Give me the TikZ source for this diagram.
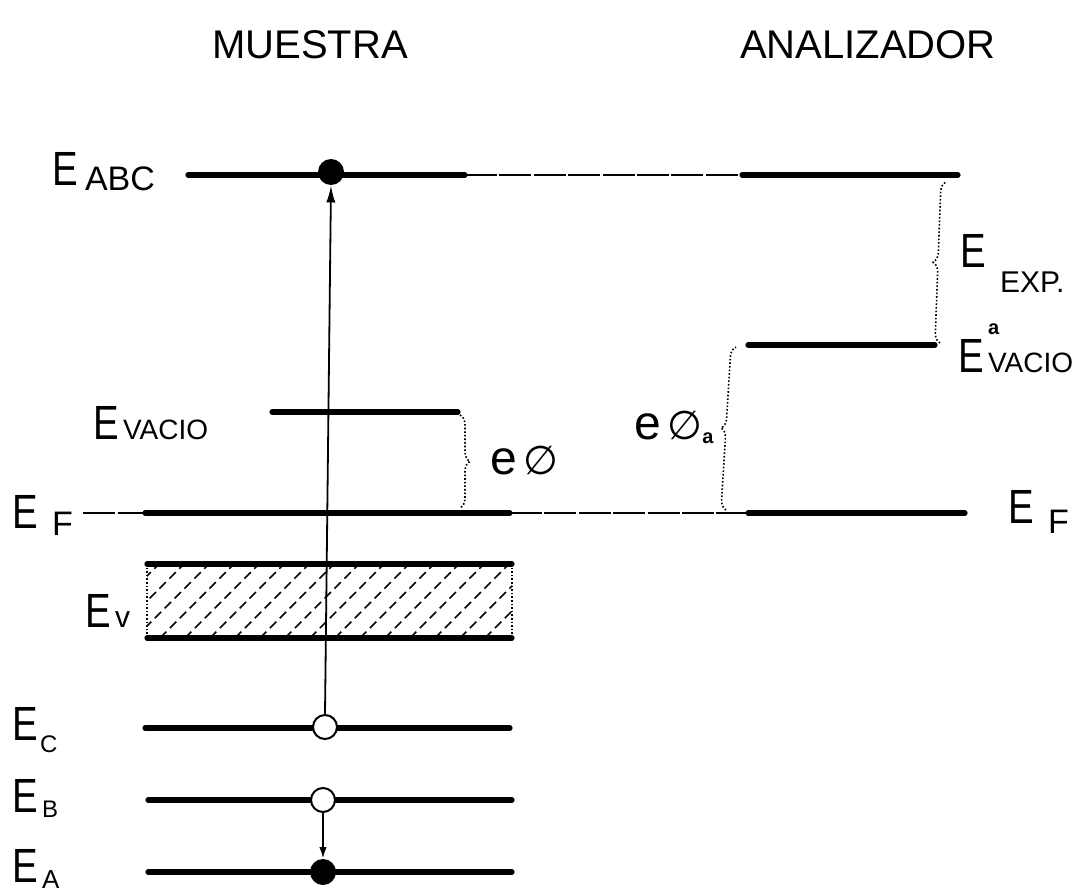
\documentclass[tikz,border=0pt]{standalone}
\usepackage{fontspec}
\setmainfont{Liberation Sans}
\newfontfamily\symfont{DejaVu Sans}
\usetikzlibrary{positioning,arrows.meta,decorations.pathreplacing}

% big E and its index
\newcommand{\bigE}{{\fontsize{24}{26}\selectfont\scalebox{0.8}[1]{E}}}
\newcommand{\esub}[3][0pt]{\raisebox{#1}{\fontsize{#2}{#2}\selectfont #3}}
\newcommand{\phisym}{{\symfont\fontsize{20}{22}\selectfont ∅}}

\begin{document}
\begin{tikzpicture}[x=0.5pt,y=-0.5pt,
level/.style={line width=2.6pt, line cap=round},
link/.style={line width=0.6pt, dash pattern=on 16pt off 1.2pt},
dotbrace/.style={decorate, decoration={brace, amplitude=5pt}, densely dotted, line width=0.8pt},
lab/.style={inner sep=0pt},
title/.style={font=\fontsize{20}{22}\selectfont, inner sep=0pt},
hole/.style={circle, draw, line width=1pt, fill=white, minimum size=12pt, inner sep=0pt},
elec/.style={circle, fill=black, minimum size=13pt, inner sep=0pt},
arrow/.style={-{Latex[length=3mm, width=1.6mm]}, line width=0.9pt}
]
\useasboundingbox (0,0) rectangle (1088,894);

% titles
\node[title] (muestra) at (310,45) {MUESTRA};
\node[title] (analiz) at (868,45) {ANALIZADOR};

% level ends
\coordinate (abcL) at (188,175);
\coordinate (abcR) at (465,175);
\coordinate (abcaL) at (742,175);
\coordinate (abcaR) at (958,175);
\coordinate (vacL) at (272,412);
\coordinate (vacR) at (458,412);
\coordinate (vacaL) at (748,345);
\coordinate (vacaR) at (935,345);
\coordinate (fL) at (145,513);
\coordinate (fR) at (510,513);
\coordinate (faL) at (748,513);
\coordinate (faR) at (965,513);
\coordinate (vtL) at (147,564);
\coordinate (vtR) at (512,564);
\coordinate (vbL) at (147,638);
\coordinate (vbR) at (512,638);
\coordinate (cL) at (145,728);
\coordinate (cR) at (510,728);
\coordinate (bL) at (148,800);
\coordinate (bR) at (512,800);
\coordinate (aL) at (148,872);
\coordinate (aR) at (512,872);

% labels
\node[lab, anchor=base west] (lABC) at (52,185) {\bigE\hspace{3.5pt}\esub[-2.5pt]{17}{ABC}};
\node[lab, anchor=base west] (lVac) at (93,439) {\bigE\hspace{2pt}\esub{14}{VACIO}};
\node[lab, anchor=base west] (lF) at (12,528) {\bigE\hspace{7pt}\esub[-3.5pt]{17}{F}};
\node[lab, anchor=base west] (lV) at (85,627) {\bigE\hspace{2pt}\esub{15}{v}};
\node[lab, anchor=base west] (lC) at (12,740) {\bigE\hspace{1pt}\esub[-6pt]{12}{C}};
\node[lab, anchor=base west] (lB) at (12,812) {\bigE\hspace{2pt}\esub[-2.5pt]{12}{B}};
\node[lab, anchor=base west] (lA) at (12,882) {\bigE\hspace{2pt}\esub[-3pt]{13}{A}};
\node[lab, anchor=base west] (lFa) at (1008,523) {\bigE\hspace{7pt}\esub[-5pt]{17}{F}};
\node[lab, anchor=base west] (lExp) at (960,267) {\bigE\hspace{7pt}\esub[-12.5pt]{15}{EXP.}};
\node[lab, anchor=base west] (lVaca) at (958,372) {\bigE\hspace{2pt}\rlap{\esub[19pt]{10}{\bfseries a}}\esub{14}{VACIO}};

% levels
\draw[level] (abcL) -- (abcR);
\draw[link] (abcR) -- (abcaL);
\draw[level] (abcaL) -- (abcaR);
\draw[level] (vacL) -- (vacR);
\draw[level] (vacaL) -- (vacaR);
\draw[link] ([xshift=5pt]lF.east |- fL) -- (fL);
\draw[level] (fL) -- (fR);
\draw[link] (fR) -- (faL);
\draw[level] (faL) -- (faR);

% valence band
\begin{scope}
\clip (vtL) rectangle (vbR);
\foreach \x in {60,85,...,530}
  \draw[line width=0.8pt, dash pattern=on 4.5pt off 2.5pt] (\x,638) -- (\x+74,564);
\end{scope}
\draw[densely dotted, line width=0.8pt] (vtL) -- (vbL) (vtR) -- (vbR);
\draw[level] (vtL) -- (vtR);
\draw[level] (vbL) -- (vbR);

\draw[level] (cL) -- (cR);
\draw[level] (bL) -- (bR);
\draw[level] (aL) -- (aR);

% braces
\draw[dotbrace] (460,415) -- (460,508);
\node[lab, anchor=west, font=\fontsize{24}{26}\selectfont] (ephi) at (490,461) {e\hspace{3pt}\phisym};
\draw[dotbrace] (726,510) -- (736,347);
\node[lab, anchor=east, font=\fontsize{24}{26}\selectfont] (ephia) at (714,427) {e\hspace{3pt}\phisym\esub[-2pt]{10}{\bfseries a}};
\draw[dotbrace] (940,343) -- (946,182);

% electrons and holes
\node[elec] (eABC) at (331,172) {};
\node[hole] (hC) at (325,727) {};
\node[hole] (hB) at (323,800) {};
\node[elec] (eA) at (323,872) {};

\draw[arrow] (hC.north) -- (eABC.south);
\draw[arrow, -{Latex[length=2mm, width=1.3mm]}] (hB.south) -- (eA.north);
\end{tikzpicture}
\end{document}
